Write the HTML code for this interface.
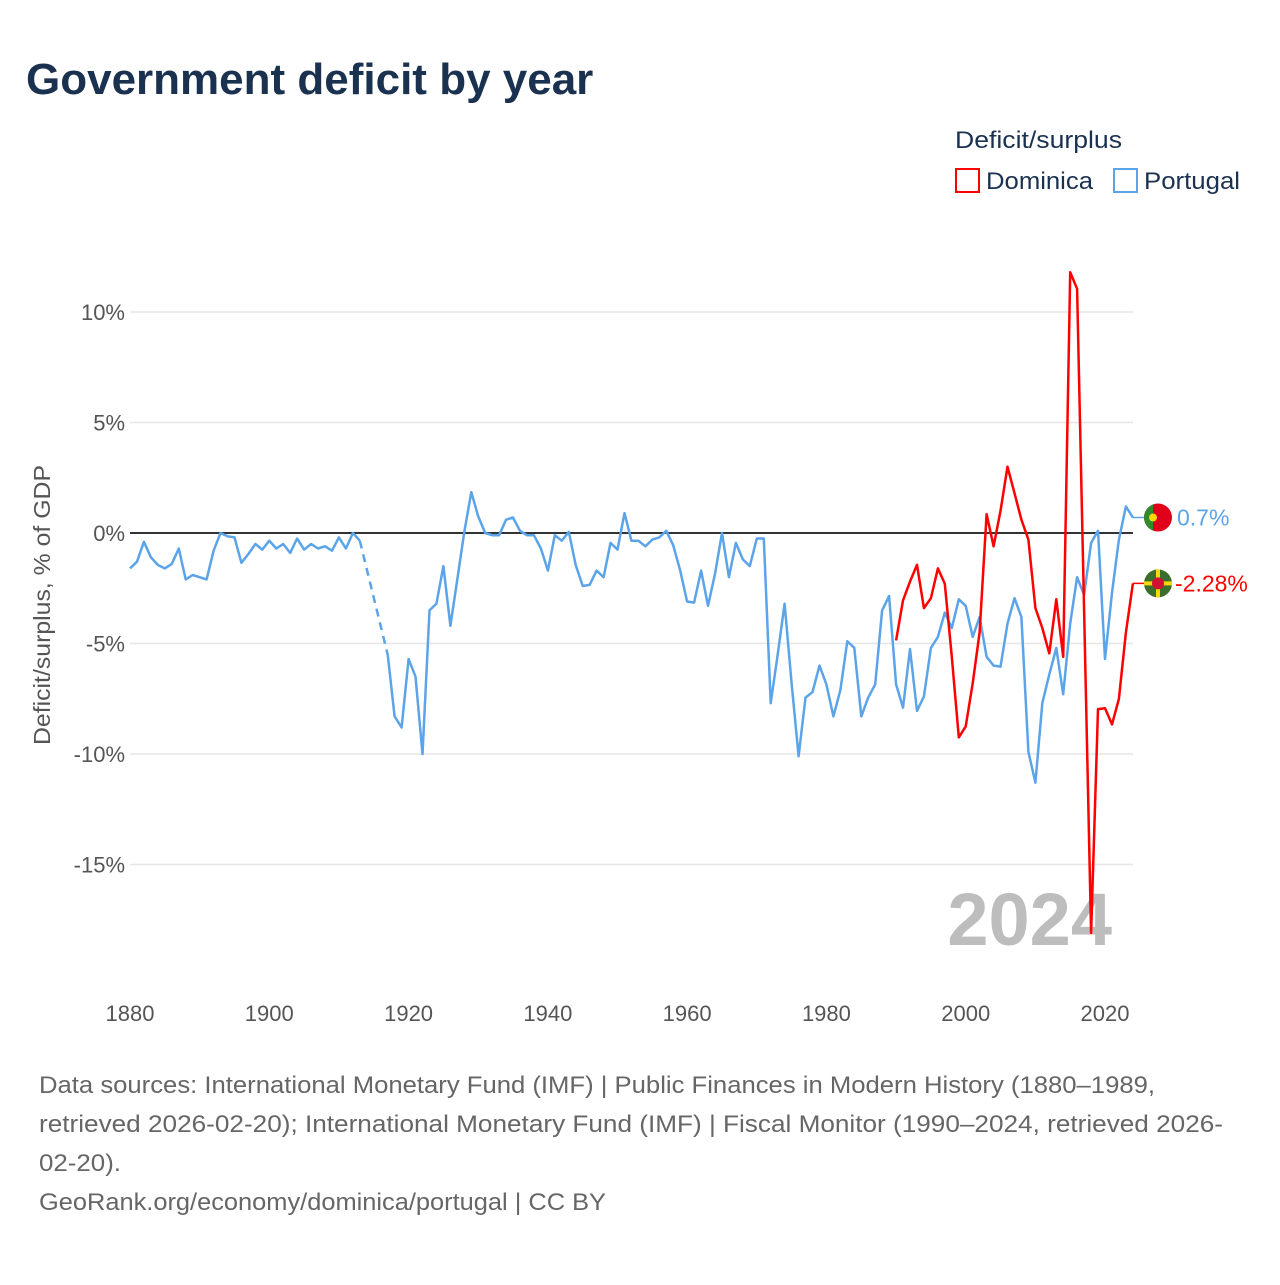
<!DOCTYPE html>
<html><head><meta charset="utf-8"><style>
body{margin:0;background:#fff;font-family:"Liberation Sans",sans-serif;}
svg text{font-family:"Liberation Sans",sans-serif;}
</style></head><body>
<svg id="chart" width="1280" height="1280" xmlns="http://www.w3.org/2000/svg">
<text x="26" y="94" font-size="44" font-weight="bold" fill="#1a3150">Government deficit by year</text>
<text x="955" y="148" font-size="24" fill="#1a3150" textLength="167" lengthAdjust="spacingAndGlyphs">Deficit/surplus</text>
<g><rect x="956" y="169" width="23" height="23" fill="none" stroke="#ff0000" stroke-width="2"/><text x="986" y="189" font-size="24" fill="#1a3150" textLength="107" lengthAdjust="spacingAndGlyphs">Dominica</text></g>
<g><rect x="1114" y="169" width="23" height="23" fill="none" stroke="#5ba4e9" stroke-width="2"/><text x="1144" y="189" font-size="24" fill="#1a3150" textLength="96" lengthAdjust="spacingAndGlyphs">Portugal</text></g>
<text transform="translate(50,605) rotate(-90)" text-anchor="middle" font-size="23" fill="#555" textLength="280" lengthAdjust="spacingAndGlyphs">Deficit/surplus, % of GDP</text>
<g id="grid"></g>
<g id="xt"></g>
<text x="1112" y="945" text-anchor="end" font-size="74" font-weight="bold" fill="#bdbdbd">2024</text>
<g id="series"></g>
<g font-size="24" fill="#666">
<text x="39" y="1093" textLength="1116" lengthAdjust="spacingAndGlyphs">Data sources: International Monetary Fund (IMF) | Public Finances in Modern History (1880–1989,</text>
<text x="39" y="1132" textLength="1184" lengthAdjust="spacingAndGlyphs">retrieved 2026-02-20); International Monetary Fund (IMF) | Fiscal Monitor (1990–2024, retrieved 2026-</text>
<text x="39" y="1171" textLength="82" lengthAdjust="spacingAndGlyphs">02-20).</text>
<text x="39" y="1210" textLength="567" lengthAdjust="spacingAndGlyphs">GeoRank.org/economy/dominica/portugal | CC BY</text>
</g>
</svg>
<script>
const yTicks=[10,5,0,-5,-10,-15];
const xTicks=[1880,1900,1920,1940,1960,1980,2000,2020];
const portugalStart=1880;
const portugal=[-1.6,-1.3,-0.4,-1.1,-1.45,-1.6,-1.4,-0.7,-2.1,-1.9,-2.0,-2.1,-0.8,0,-0.15,-0.2,-1.35,-0.95,-0.5,-0.75,-0.35,-0.7,-0.5,-0.9,-0.25,-0.75,-0.5,-0.7,-0.6,-0.8,-0.2,-0.7,0,-0.35,null,null,null,-5.5,-8.3,-8.8,-5.7,-6.5,-10,-3.5,-3.2,-1.5,-4.2,-2.1,0.05,1.85,0.75,0,-0.1,-0.1,0.6,0.7,0.1,-0.1,-0.1,-0.7,-1.7,-0.1,-0.35,0.05,-1.45,-2.4,-2.35,-1.7,-2.0,-0.45,-0.75,0.9,-0.35,-0.35,-0.6,-0.3,-0.2,0.1,-0.55,-1.7,-3.1,-3.15,-1.7,-3.3,-1.85,0,-2.0,-0.45,-1.2,-1.5,-0.25,-0.25,-7.7,-5.5,-3.2,-6.8,-10.1,-7.45,-7.2,-6.0,-6.85,-8.3,-7.1,-4.9,-5.2,-8.3,-7.45,-6.85,-3.5,-2.85,-6.85,-7.9,-5.25,-8.05,-7.4,-5.2,-4.7,-3.6,-4.3,-3.0,-3.3,-4.7,-3.8,-5.6,-6.0,-6.05,-4.1,-2.95,-3.8,-9.9,-11.3,-7.7,-6.4,-5.2,-7.3,-4.1,-2.0,-2.8,-0.45,0.1,-5.7,-2.7,-0.3,1.2,0.7];
const dominicaStart=1990;
const dominica=[-4.86,-3.05,-2.2,-1.44,-3.4,-2.95,-1.6,-2.3,-5.6,-9.25,-8.75,-6.8,-4.5,0.85,-0.6,1.0,3.0,1.8,0.6,-0.3,-3.4,-4.3,-5.45,-3.0,-5.6,11.8,11.05,-3.5,-18.1,-7.97,-7.93,-8.66,-7.5,-4.5,-2.28];
const X=y=>130+(y-1880)*975/140;
const Y=v=>533-v*22.1;
const NS="http://www.w3.org/2000/svg";
function mk(t,a,p){const e=document.createElementNS(NS,t);for(const k in a)e.setAttribute(k,a[k]);p.appendChild(e);return e;}
const grid=document.getElementById('grid');
yTicks.forEach(v=>{
  const l=mk('line',{x1:130,x2:1133,y1:Y(v),y2:Y(v),stroke:v===0?'#333':'#e6e6e6','stroke-width':v===0?2:1.5},grid);
  
  
  const t=mk('text',{x:125,y:Y(v)+8,'text-anchor':'end','font-size':22,fill:'#555'},grid);
  t.textContent=v+'%';
  
  
});
const xt=document.getElementById('xt');
xTicks.forEach(y=>{
  const t=mk('text',{x:X(y),y:1021,'text-anchor':'middle','font-size':22,fill:'#555'},xt);
  t.textContent=y;
  
  
});
const s=document.getElementById('series');
function draw(arr,start,color,name){
  let segs=[],cur=[],last=null;
  arr.forEach((v,i)=>{const yr=start+i;
    if(v===null){if(cur.length){segs.push(cur);cur=[];}return;}
    if(cur.length===0&&last){mk('line',{x1:X(last[0]),y1:Y(last[1]),x2:X(yr),y2:Y(v),stroke:color,'stroke-width':2.5,'stroke-dasharray':'8,6'},s);}
    cur.push([yr,v]);last=[yr,v];});
  if(cur.length)segs.push(cur);
  segs.forEach(sg=>{
    const p=mk('path',{d:sg.map((q,i)=>(i?'L':'M')+X(q[0]).toFixed(1)+','+Y(q[1]).toFixed(1)).join(''),fill:'none',stroke:color,'stroke-width':2.5,'stroke-linejoin':'round'},s);
    
    
  });
  const lv=arr[arr.length-1],ly=Y(lv);
  mk('line',{x1:X(start+arr.length-1),y1:ly,x2:1150,y2:ly,stroke:color,'stroke-width':1.5},s);
  const c=mk('circle',{cx:1158,cy:ly,r:14,fill:name==='portugal'?'#e0001a':'#3b6e2a'},s);
  
  
  if(name==='portugal'){mk('path',{d:`M1144,${ly} A14,14 0 0 1 1153,${ly-13} L1153,${ly+13} A14,14 0 0 1 1144,${ly}Z`,fill:'#2f8a2a'},s);mk('circle',{cx:1153,cy:ly,r:4,fill:'#f5d90a'},s);}
  else{mk('rect',{x:1144,y:ly-2,width:28,height:4,fill:'#f5d90a'},s);mk('rect',{x:1156,y:ly-14,width:4,height:28,fill:'#f5d90a'},s);mk('circle',{cx:1158,cy:ly,r:6,fill:'#d21034'},s);}
  const t=mk('text',{x:name==='portugal'?1177:1175,y:ly+8,'font-size':23,fill:color},s);
  t.textContent=lv+'%';
  
  
}
draw(portugal,portugalStart,'#5ba4e9','portugal');
draw(dominica,dominicaStart,'#ff0000','dominica');
</script>
</body></html>
